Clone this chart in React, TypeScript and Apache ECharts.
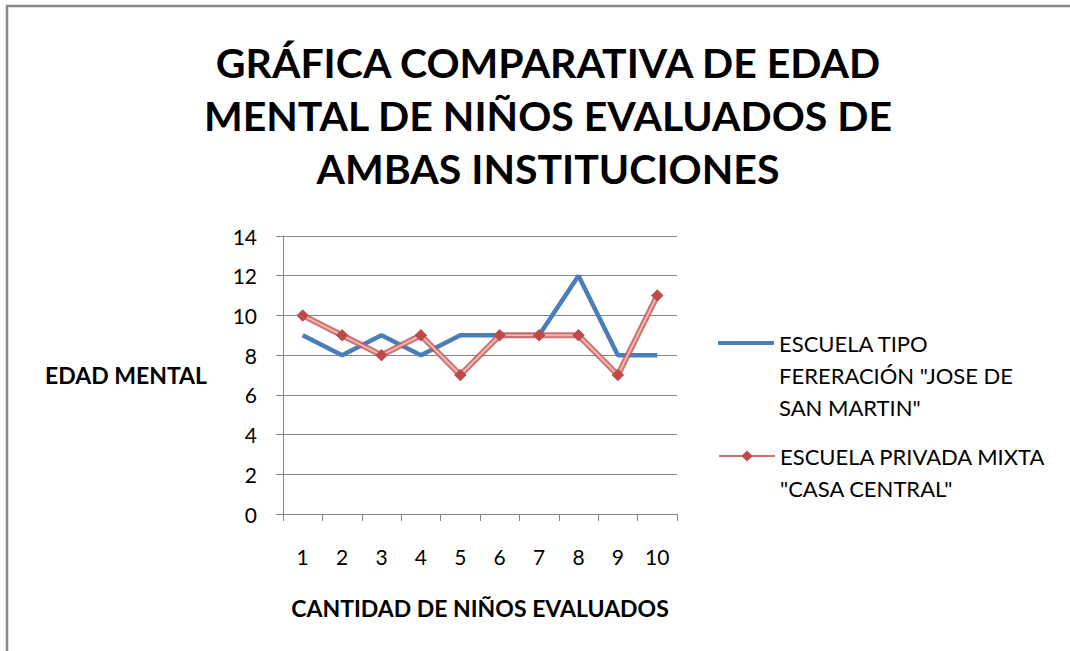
import React, { useEffect, useRef } from "react";
import * as echarts from "echarts";

const categories = ["1", "2", "3", "4", "5", "6", "7", "8", "9", "10"];
const seriesNames = [
  'ESCUELA TIPO FERERACIÓN "JOSE DE SAN MARTIN"',
  'ESCUELA PRIVADA MIXTA "CASA CENTRAL"',
];
const legendLabels = [
  '\n\nESCUELA TIPO\nFERERACIÓN "JOSE DE\nSAN MARTIN"',
  '\nESCUELA PRIVADA MIXTA\n"CASA CENTRAL"',
];
const publicSchool = [9, 8, 9, 8, 9, 9, 9, 12, 8, 8];
const privateSchool = [10, 9, 8, 9, 7, 9, 9, 9, 7, 11];
const titleText = "GRÁFICA COMPARATIVA DE EDAD\nMENTAL DE NIÑOS EVALUADOS DE\nAMBAS INSTITUCIONES";
const yName = "EDAD MENTAL";
const xName = "CANTIDAD DE NIÑOS EVALUADOS";

const FONT = "Lato, 'Open Sans', sans-serif";

export default function App() {
  const ref = useRef<HTMLDivElement>(null);
  useEffect(() => {
    if (!ref.current) return;
    const chart = echarts.init(ref.current, null, { renderer: "svg" });
    const legendLH = 32;
    chart.setOption({
      animation: false,
      backgroundColor: "#ffffff",
      textStyle: { fontFamily: FONT },
      title: {
        text: titleText,
        left: 543,
        top: 31,
        textAlign: "center",
        textStyle: {
          fontFamily: FONT,
          fontSize: 41,
          fontWeight: "bold",
          lineHeight: 53,
          color: "#000",
        },
      },
      graphic: [
        {
          type: "rect",
          shape: { x: 7, y: 6, width: 1200, height: 800 },
          style: { fill: "none", stroke: "#878787", lineWidth: 2.5 },
          silent: true,
        },
      ],
      legend: [
        {
          data: [{ name: seriesNames[0], icon: "roundRect" }],
          orient: "vertical",
          left: 713,
          top: 343 - (legendLH * 5) / 2 - 5,
          itemWidth: 56,
          itemHeight: 4,
          itemGap: 0,
          formatter: () => legendLabels[0],
          textStyle: {
            fontFamily: FONT,
            fontSize: 22,
            color: "#000",
            lineHeight: legendLH,
          },
        },
        {
          data: [seriesNames[1]],
          orient: "vertical",
          left: 713,
          top: 456 - (legendLH * 3) / 2 - 5,
          itemWidth: 56,
          itemHeight: 14,
          itemGap: 0,
          formatter: () => legendLabels[1],
          textStyle: {
            fontFamily: FONT,
            fontSize: 22,
            color: "#000",
            lineHeight: legendLH,
          },
        },
      ],
      grid: { left: 283, top: 236, right: 1070 - 677, bottom: 651 - 514 },
      xAxis: {
        type: "category",
        data: categories,
        boundaryGap: true,
        name: xName,
        nameLocation: "middle",
        nameGap: 82,
        nameTextStyle: { fontFamily: FONT, fontSize: 23, fontWeight: "bold", color: "#000" },
        axisLine: { lineStyle: { color: "#868686", width: 1 } },
        axisTick: { show: true, length: 7, lineStyle: { color: "#868686" }, alignWithLabel: false },
        axisLabel: { margin: 32, fontFamily: FONT, fontSize: 21, color: "#000" },
        splitLine: { show: false },
      },
      yAxis: {
        type: "value",
        min: 0,
        max: 14,
        interval: 2,
        name: yName,
        nameLocation: "middle",
        nameRotate: 0,
        nameGap: 76,
        nameTextStyle: { fontFamily: FONT, fontSize: 23, fontWeight: "bold", color: "#000" },
        axisLine: { show: true, lineStyle: { color: "#868686", width: 1 } },
        axisTick: { show: true, length: 7, lineStyle: { color: "#868686" } },
        axisLabel: { margin: 26, fontFamily: FONT, fontSize: 21, color: "#000" },
        splitLine: { show: true, lineStyle: { color: "#868686", width: 1 } },
      },
      series: [
        {
          name: seriesNames[0],
          type: "line",
          data: publicSchool,
          showSymbol: false,
          symbol: "none",
          lineStyle: { color: "#4A7EBB", width: 4.5 },
          itemStyle: { color: "#4A7EBB" },
        },
        {
          name: seriesNames[1],
          type: "line",
          data: privateSchool,
          symbol: "diamond",
          symbolSize: 12,
          lineStyle: { color: "#C85A57", width: 6, opacity: 0.85 },
          itemStyle: { color: "#BE4B48" },
        },
        {
          name: "overlay",
          type: "line",
          data: privateSchool,
          symbol: "diamond",
          symbolSize: 12,
          silent: true,
          lineStyle: { color: "#EBB8B6", width: 2 },
          itemStyle: { color: "#BE4B48" },
        },
      ],
    });
    return () => chart.dispose();
  }, []);
  return (
    <div
      ref={ref}
      style={{ position: "fixed", left: 0, top: 0, width: 1070, height: 651, overflow: "hidden" }}
    />
  );
}
